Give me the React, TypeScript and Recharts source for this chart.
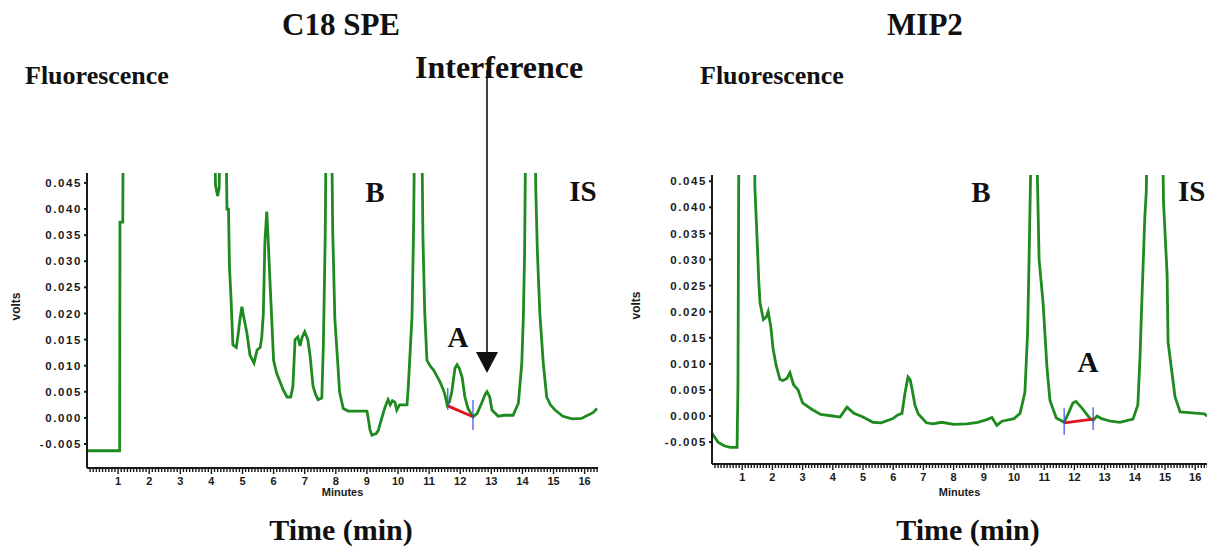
import React from "react";
import { LineChart, Line, XAxis, YAxis, ReferenceLine, Label } from "recharts";

// C18 SPE trace (minutes, volts); values above the top are peaks running off-scale
const c18Time = [
  0, 1.05, 1.06, 1.15, 1.17, 4.1, 4.13, 4.2, 4.25, 4.3, 4.45, 4.5, 4.55, 4.58, 4.63, 4.69, 4.8, 4.86, 4.92, 4.98,
  5.05, 5.14, 5.24, 5.37, 5.47, 5.57, 5.62, 5.67, 5.72, 5.78, 5.82, 5.9, 6.0, 6.1, 6.2, 6.3, 6.43, 6.55, 6.62, 6.69,
  6.78, 6.85, 6.92, 7.0, 7.1, 7.17, 7.27, 7.35, 7.43, 7.55, 7.6, 7.66, 7.7, 7.85, 7.9, 7.97, 8.07, 8.12, 8.24, 8.4,
  8.8, 9.0, 9.04, 9.1, 9.16, 9.3, 9.36, 9.48, 9.58, 9.68, 9.75, 9.82, 9.9, 9.96, 10.05, 10.15, 10.29, 10.33, 10.45, 10.5,
  10.55, 10.75, 10.8, 10.86, 10.93, 11.05, 11.14, 11.25, 11.35, 11.45, 11.51, 11.58, 11.65, 11.73, 11.83, 11.9, 11.97, 12.06, 12.15, 12.25,
  12.35, 12.41, 12.54, 12.7, 12.8, 12.86, 12.95, 13.02, 13.22, 13.4, 13.7, 13.87, 13.98, 14.03, 14.07, 14.12, 14.38, 14.43, 14.48, 14.56,
  14.67, 14.78, 14.9, 15.05, 15.3, 15.6, 15.9, 16.1, 16.27, 16.4,
];
const c18Volts = [
  -0.0063, -0.0063, 0.0375, 0.0375, 0.065, 0.065, 0.0446, 0.0425, 0.044, 0.065, 0.065, 0.04, 0.04, 0.029, 0.023, 0.014, 0.0135, 0.016, 0.019, 0.0213,
  0.019, 0.0163, 0.012, 0.0105, 0.013, 0.0135, 0.0155, 0.02, 0.0337, 0.0395, 0.0347, 0.024, 0.011, 0.0085, 0.007, 0.0055, 0.004, 0.004, 0.006, 0.015,
  0.0155, 0.0138, 0.0155, 0.0165, 0.015, 0.012, 0.006, 0.0045, 0.0035, 0.0038, 0.014, 0.035, 0.065, 0.065, 0.036, 0.0188, 0.0098, 0.005, 0.0018, 0.0013,
  0.0013, 0.0013, 0.0, -0.0023, -0.0033, -0.003, -0.0025, 0.0, 0.002, 0.0035, 0.0025, 0.0033, 0.003, 0.0015, 0.0025, 0.0025, 0.0025, 0.006, 0.0194, 0.036,
  0.065, 0.065, 0.035, 0.02, 0.011, 0.0098, 0.0092, 0.008, 0.0069, 0.0055, 0.0044, 0.0025, 0.003, 0.005, 0.0095, 0.0102, 0.0095, 0.0078, 0.004, 0.0018,
  0.0008, 0.0002, 0.0008, 0.003, 0.0045, 0.005, 0.004, 0.0015, 0.0003, 0.0005, 0.0005, 0.0028, 0.0105, 0.0194, 0.0316, 0.065, 0.065, 0.0437, 0.032, 0.02,
  0.0105, 0.004, 0.0025, 0.0015, 0.0003, -0.0002, -0.0001, 0.0005, 0.001, 0.0018,
];

// MIP2 trace
const mip2Time = [
  0, 0.2, 0.4, 0.6, 0.8, 0.83, 0.86, 0.9, 1.4, 1.42, 1.5, 1.55, 1.59, 1.7, 1.8, 1.86, 1.95, 2.02, 2.12, 2.25,
  2.35, 2.48, 2.58, 2.7, 2.85, 3.0, 3.3, 3.6, 4.0, 4.24, 4.47, 4.7, 5.0, 5.33, 5.6, 5.99, 6.15, 6.29, 6.39, 6.49,
  6.56, 6.63, 6.72, 6.83, 7.1, 7.32, 7.6, 8.0, 8.44, 8.8, 9.1, 9.27, 9.43, 9.6, 10.0, 10.2, 10.36, 10.45, 10.5, 10.56,
  10.76, 10.83, 10.96, 11.09, 11.19, 11.4, 11.66, 11.8, 11.95, 12.05, 12.25, 12.52, 12.62, 12.75, 12.9, 13.2, 13.5, 13.94, 14.1, 14.17,
  14.23, 14.33, 14.38, 14.44, 14.88, 14.95, 15.07, 15.1, 15.23, 15.33, 15.5, 15.9, 16.3, 16.4,
];
const mip2Volts = [
  -0.0033, -0.005, -0.0057, -0.006, -0.006, -0.006, 0.006, 0.07, 0.07, 0.0438, 0.033, 0.0257, 0.0217, 0.0185, 0.019, 0.02, 0.017, 0.013, 0.0098, 0.007,
  0.0068, 0.0072, 0.0083, 0.006, 0.005, 0.0025, 0.0013, 0.0003, 0.0, -0.0002, 0.0017, 0.0005, -0.0002, -0.0012, -0.0013, -0.0005, 0.0002, 0.0005, 0.0044, 0.0075,
  0.007, 0.005, 0.0021, 0.0004, -0.0013, -0.0015, -0.0012, -0.0016, -0.0015, -0.0012, -0.0007, -0.0003, -0.0018, -0.001, -0.0005, 0.0005, 0.0045, 0.016, 0.0305, 0.05,
  0.05, 0.03, 0.0219, 0.0094, 0.003, -0.0004, -0.0012, 0.0005, 0.0025, 0.0028, 0.0015, -0.0005, -0.0008, 0.0, -0.0005, -0.001, -0.0012, -0.0006, 0.0021, 0.011,
  0.0215, 0.038, 0.043, 0.07, 0.07, 0.041, 0.027, 0.0142, 0.0083, 0.0037, 0.0008, 0.0006, 0.0004, 0.0,
];

// integration baselines for peak A: [start, end] as (minute, volt)
const c18Baseline = [
  { x: 11.6, y: 0.0023 },
  { x: 12.41, y: 0.0002 },
];
const mip2Baseline = [
  { x: 11.66, y: -0.0013 },
  { x: 12.62, y: -0.0006 },
];

const voltTicks = [-0.005, 0, 0.005, 0.01, 0.015, 0.02, 0.025, 0.03, 0.035, 0.04, 0.045];
const minuteTicks = Array.from({ length: 164 }, (_, i) => +((i + 1) / 10).toFixed(1));

const GREEN = "#1f8a1f";
const AXIS = "#1a1a1a";
const sans = "Liberation Sans, Arial, sans-serif";

function MinuteTick(props: any) {
  const { x, y, payload } = props;
  const v = payload.value;
  const major = Math.abs(v - Math.round(v)) < 1e-6;
  return (
    <g>
      <line x1={x} x2={x} y1={y} y2={y + (major ? 6 : 4)} stroke={AXIS} strokeWidth={1.4} />
      {major && (
        <text x={x} y={y + 17} textAnchor="middle" fontSize={11} fontWeight="bold" fill={AXIS} fontFamily={sans}>
          {v}
        </text>
      )}
    </g>
  );
}

interface PanelProps {
  time: number[];
  volts: number[];
  width: number;
  height: number;
  xMax: number;
  yDomain: [number, number];
  margin: { top: number; right: number; left: number; bottom: number };
  yAxisWidth: number;
  xAxisHeight: number;
  baseline: { x: number; y: number }[];
  markers: [number, number][];
}

function Panel(p: PanelProps) {
  const data = p.time.map((t, i) => ({ t, v: p.volts[i] }));
  return (
    <LineChart width={p.width} height={p.height} data={data} margin={p.margin}>
      <XAxis
        dataKey="t"
        type="number"
        domain={[0, p.xMax]}
        allowDataOverflow
        ticks={minuteTicks}
        interval={0}
        tick={<MinuteTick />}
        tickLine={false}
        tickSize={0}
        tickMargin={0}
        height={p.xAxisHeight}
        stroke={AXIS}
        strokeWidth={2}
      >
        <Label value="Minutes" position="insideBottom" offset={4} fontSize={11} fontWeight="bold"
          fill={AXIS} fontFamily={sans} />
      </XAxis>
      <YAxis
        type="number"
        domain={p.yDomain}
        allowDataOverflow
        ticks={voltTicks}
        interval={0}
        width={p.yAxisWidth}
        tickSize={3}
        tickMargin={2}
        tickFormatter={(v: number) => v.toFixed(3)}
        tick={{ fontSize: 11.5, fontWeight: "bold", fill: AXIS, letterSpacing: 1.6, fontFamily: sans }}
        stroke={AXIS}
        strokeWidth={2}
      >
        <Label value="volts" angle={-90} position="insideLeft" offset={16} fontSize={12} fontWeight="bold"
          fill={AXIS} fontFamily={sans} />
      </YAxis>
      <Line
        dataKey="v"
        type="linear"
        stroke={GREEN}
        strokeWidth={2.8}
        dot={false}
        isAnimationActive={false}
      />
      <ReferenceLine segment={p.baseline} stroke="#e0141a" strokeWidth={2.8} ifOverflow="visible" />
      {p.baseline.map((b, i) => (
        <ReferenceLine
          key={i}
          segment={[
            { x: b.x, y: p.markers[i][0] },
            { x: b.x, y: p.markers[i][1] },
          ]}
          stroke="#3b4fe0"
          strokeWidth={1.2}
          ifOverflow="visible"
        />
      ))}
    </LineChart>
  );
}

const serif = "Liberation Serif, Times New Roman, serif";

export default function App() {
  return (
    <div style={{ position: "absolute", left: 0, top: 0, width: 1207, height: 549, background: "#fff", overflow: "hidden" }}>
      <div style={{ position: "absolute", left: 0, top: 160 }}>
        <Panel
          time={c18Time}
          volts={c18Volts}
          width={610}
          height={340}
          xMax={16.43}
          yDomain={[-0.0096, 0.0469]}
          margin={{ top: 13, right: 12, left: 0, bottom: 0 }}
          yAxisWidth={87}
          xAxisHeight={32}
          baseline={c18Baseline}
          markers={[
            [0.0015, 0.0057],
            [-0.0023, 0.0034],
          ]}
        />
      </div>
      <div style={{ position: "absolute", left: 620, top: 160 }}>
        <Panel
          time={mip2Time}
          volts={mip2Volts}
          width={587}
          height={340}
          xMax={16.39}
          yDomain={[-0.0092, 0.0462]}
          margin={{ top: 15, right: 0, left: 0, bottom: 0 }}
          yAxisWidth={92}
          xAxisHeight={36}
          baseline={mip2Baseline}
          markers={[
            [-0.0036, 0.0015],
            [-0.0027, 0.0017],
          ]}
        />
      </div>
      <svg width={1207} height={549} style={{ position: "absolute", left: 0, top: 0, pointerEvents: "none" }}>
        <g fontFamily={serif} fontWeight="bold" fill="#111">
          <text x={341} y={35} fontSize={31} textAnchor="middle">C18 SPE</text>
          <text x={925} y={35} fontSize={31} textAnchor="middle">MIP2</text>
          <text x={25} y={84} fontSize={26}>Fluorescence</text>
          <text x={700} y={84} fontSize={26}>Fluorescence</text>
          <text x={415} y={78} fontSize={32}>Interference</text>
          <text x={375} y={202} fontSize={29} textAnchor="middle">B</text>
          <text x={583} y={201} fontSize={29} textAnchor="middle">IS</text>
          <text x={458} y={347} fontSize={29} textAnchor="middle">A</text>
          <text x={981} y={202} fontSize={29} textAnchor="middle">B</text>
          <text x={1178} y={201} fontSize={29}>IS</text>
          <text x={1088} y={372} fontSize={29} textAnchor="middle">A</text>
          <text x={341} y={540} fontSize={30} textAnchor="middle">Time (min)</text>
          <text x={968} y={540} fontSize={30} textAnchor="middle">Time (min)</text>
        </g>
        <line x1={487} y1={70} x2={487} y2={356} stroke="#111" strokeWidth={1.6} />
        <polygon points="476,352 498,352 487,373" fill="#111" />
      </svg>
    </div>
  );
}
